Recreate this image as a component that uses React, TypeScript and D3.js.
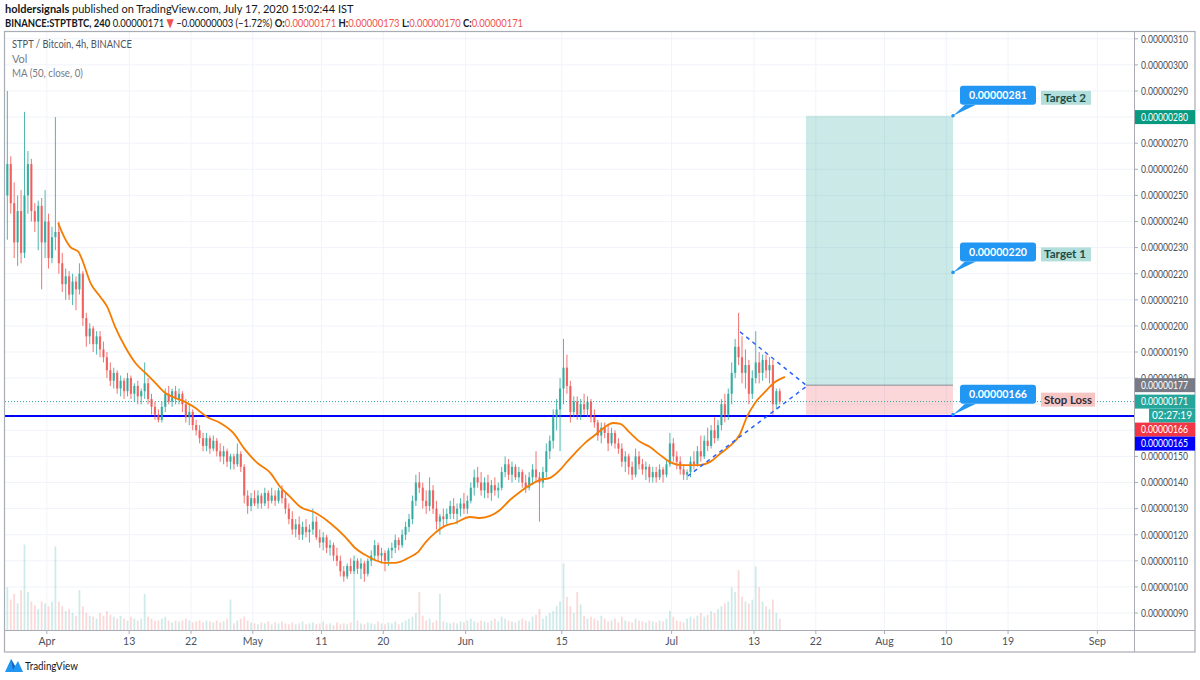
import React, { useLayoutEffect, useRef, useState } from "react";
import * as d3 from "d3";

// ---------- DATA (prices in satoshi = 1e-8 BTC) ----------
// 12h candles [open, high, low, close], first candle centred on 26 Mar 2020 06:00 (day -5.75 from 1 Apr)
const FIRST_DAY = -5.75;
const STEP_DAYS = 0.5;
const candles: number[][] = [
  [250,290,233,262],[262,265,243,247],[247,255,226,232],[232,250,223,244],[244,252,224,228],
  [228,282,226,250],[250,267,243,262],[262,264,240,244],[244,247,236,240],[240,248,229,246],
  [246,249,214,232],[232,252,226,240],[240,243,222,226],[226,238,224,234],[234,280,229,236],
  [236,240,220,224],[224,228,213,216],[216,222,210,219],[219,221,210,212],[212,220,208,217],
  [217,219,206,214],[214,224,212,220],[220,221,200,203],[203,205,192,196],[196,201,193,199],
  [199,200,190,193],[193,198,189,196],[196,198,188,191],[191,194,186,188],[188,190,180,183],
  [183,186,177,179],[179,184,176,182],[182,183,174,176],[176,181,173,179],[179,180,172,175],
  [175,182,173,180],[180,181,172,174],[174,178,171,177],[177,179,170,173],[173,176,170,175],
  [175,186,172,178],[178,180,170,172],[172,174,166,169],[169,171,164,166],[166,168,163,164],
  [164,171,163,169],[169,176,167,174],[174,177,170,171],[171,176,169,175],[175,177,170,172],
  [172,176,170,174],[174,175,167,170],[170,172,163,165],[165,170,162,167],[167,168,160,162],
  [162,164,158,160],[160,162,155,157],[157,159,152,154],[154,159,152,157],[157,158,151,153],
  [153,158,152,156],[156,157,150,152],[152,155,148,150],[150,154,147,152],[152,153,146,148],
  [148,151,145,150],[150,151,145,147],[147,155,146,151],[151,152,144,146],[146,147,132,135],
  [135,137,128,131],[131,136,129,134],[134,137,131,132],[132,137,130,135],[135,136,130,132],
  [132,138,131,136],[136,137,130,133],[133,138,132,135],[135,137,131,133],[133,138,132,137],
  [137,139,132,134],[134,136,128,130],[130,132,124,126],[126,129,120,122],[122,126,119,124],
  [124,127,118,120],[120,125,118,123],[123,126,119,121],[121,124,117,122],[122,130,120,125],
  [125,127,118,119],[119,122,115,117],[117,121,114,119],[119,120,113,115],[115,118,112,116],
  [116,117,110,112],[112,115,108,110],[110,112,104,106],[106,108,102,104],[104,109,103,108],
  [108,111,105,106],[106,112,105,110],[110,111,105,107],[107,111,103,109],[109,110,102,105],
  [105,111,104,110],[110,114,108,112],[112,118,110,116],[116,117,110,112],[112,115,109,113],
  [113,114,106,110],[110,115,108,114],[114,117,111,115],[115,120,113,118],[118,119,114,116],
  [116,122,115,120],[120,125,118,123],[123,128,121,126],[126,135,124,133],[133,143,131,140],
  [140,144,136,138],[138,140,130,133],[133,137,128,131],[131,142,129,137],[137,139,128,130],
  [130,133,122,125],[125,128,120,127],[127,130,123,126],[126,130,124,128],[128,133,126,131],
  [131,134,126,128],[128,132,124,130],[130,134,127,132],[132,136,128,130],[130,135,128,133],
  [133,140,132,138],[138,145,135,142],[142,146,138,140],[140,144,135,137],[137,142,134,140],
  [140,143,134,136],[136,141,133,139],[139,142,135,137],[137,140,134,138],[138,146,137,144],
  [144,150,142,147],[147,149,141,143],[143,148,140,146],[146,147,141,142],[142,146,140,144],
  [144,145,138,140],[140,143,136,138],[138,144,137,142],[142,147,139,145],[145,152,140,142],
  [142,144,125,140],[140,146,138,144],[144,155,142,152],[152,158,149,156],[156,168,153,165],
  [165,172,160,168],[168,180,152,176],[176,195,170,184],[184,189,174,177],[177,179,163,167],
  [167,173,165,171],[171,173,164,166],[166,172,164,170],[170,174,166,168],[168,173,165,171],
  [171,172,163,165],[165,168,161,163],[163,164,156,158],[158,163,155,161],[161,163,157,159],
  [159,162,152,155],[155,161,154,159],[159,160,153,155],[155,157,151,153],[153,155,146,148],
  [148,152,144,150],[150,151,143,146],[146,148,141,143],[143,153,142,150],[150,152,145,147],
  [147,149,143,145],[145,148,141,146],[146,147,140,142],[142,146,140,144],[144,146,140,142],
  [142,147,141,145],[145,146,140,143],[143,149,142,147],[147,159,146,155],[155,157,148,150],
  [150,152,145,148],[148,150,143,145],[145,147,141,143],[143,145,141,144],[144,150,142,148],
  [148,152,145,147],[147,154,146,152],[152,158,148,150],[150,158,149,156],[156,161,152,154],
  [154,162,153,160],[160,165,155,157],[157,164,156,162],[162,172,160,170],[170,174,163,166],
  [166,176,164,174],[174,186,170,182],[182,195,180,192],[192,205,185,188],[188,196,178,182],
  [182,191,176,185],[185,187,170,174],[174,183,172,180],[180,198,178,186],[186,190,178,182],
  [182,189,179,187],[187,189,180,183],[183,188,178,185],[185,187,166,170],[170,176,168,175],
  [175,176,170,171],
];

// relative volume per candle (0-100)
const volumes: number[] = [
  45,32,38,28,42,90,40,30,26,22, 30,28,25,30,88,30,25,20,22,18,
  15,42,25,18,15,14,12,18,15,20, 16,14,12,15,12,10,14,12,10,12,
  38,14,12,10,10,12,14,10,8,10, 9,10,12,10,8,9,10,8,10,9,
  8,10,8,9,12,32,7,10,12,14, 10,8,7,6,8,7,9,6,8,7,
  9,7,6,8,6,7,9,6,7,8, 6,7,9,6,7,5,8,6,7,6,
  8,60,10,7,6,8,7,6,9,7, 6,8,7,9,6,8,10,12,14,18,
  40,15,10,12,8,10,38,9,8,7, 8,7,9,8,10,12,9,8,10,9,
  8,10,12,9,14,12,10,9,8,10, 12,10,9,14,16,22,12,15,18,20,
  25,30,70,35,25,18,40,27,15,12, 14,12,10,15,12,9,10,12,8,14,
  10,9,8,12,10,9,8,10,9,8, 10,9,12,20,14,10,9,8,12,14,
  12,15,18,14,16,20,18,22,25,28, 30,45,40,63,35,30,28,32,67,45,
  30,25,22,32,18,12,
];

// MA(50, close): candle index (fractional) and value
const maIndex: number[] = [14.8,16,18.3,20.7,21.8,24.2,27.1,29.1,31.4,34.3,37.3,40.2,43.1,46,48.9,51.8,54.7,58.2,62,65.8,69.3,72.8,76.6,79.5,82.4,85.3,89.7,94,98.4,101.3,104.2,107.1,110,112.9,114.4,117.3,119.7,121.7,124.6,127.5,130.4,134.8,137.7,140.6,143.5,146.4,149.3,152.3,155.2,158.1,161,163,165.4,168.3,171.2,174.1,176.4,178.5,181.4,184.3,187.2,190.1,193,196,198.8,201.7,204.7,207.6,210.5,213.4,215.4,217.8,220.7,223.6,226.5];
const maValue: number[] = [239.5,235.6,230.3,228.4,225.3,216.5,211.1,207.3,199.6,192,185.8,182,178.2,174.3,172.4,170.9,168.6,165.1,162.8,159,152.5,147.5,143.7,138.3,134.5,130.7,128.4,124.5,119.2,114.9,112.3,110.3,109.2,109.2,109.6,111.5,113.4,116.9,120.7,123.4,124.5,126.8,126.4,127.2,129.5,133.3,136.4,139.1,141,141.8,144.8,147.9,151.3,155.2,158.2,161.3,162.8,162.5,159,155.6,153.6,150.6,147.9,146.7,146.7,146.7,147.9,151,154,158.5,165.1,170.5,174.7,178.5,180.5];

const priceTicks: number[] = [90,100,110,120,130,140,150,160,170,180,190,200,210,220,230,240,250,260,270,280,290,300,310];
const timeTickDays: number[] = [0,12,21,30,40,49,61,75,91,103,112,122,131,140,153];
const timeTickLabels: string[] = ["Apr","13","22","May","11","20","Jun","15","Jul","13","22","Aug","10","19","Sep"];

// drawings
const trianglePoints: number[][] = [[100.96,197.7],[110.72,177.0],[93.38,142.5]];
const positionStartDay = 110.57;
const positionEndDay = 131.98;
const entryPrice = 177.3;
const stopPrice = 166;
const targetPrice = 280.5;
const supportLine = 165.5;
const lastPrice = 171;
const calloutPrices: number[] = [280.5, 220.5, 166];
const calloutTexts: string[] = ["0.00000281", "0.00000220", "0.00000166"];
const calloutTags: string[] = ["Target 2", "Target 1", "Stop Loss"];

const UP = "#26a69a";
const DOWN = "#ef5350";
const FONT = "Lato, 'DejaVu Sans', sans-serif";

const fmt = (p: number) => (p * 1e-8).toFixed(8);

// text horizontally scaled (via transform) to a target width, keeping natural glyph spacing
function FitText(props: { x: number; y: number; width: number; children: React.ReactNode; [k: string]: any }) {
  const { x, y, width, children, ...rest } = props;
  const ref = useRef<SVGTextElement>(null);
  const [s, setS] = useState(1);
  useLayoutEffect(() => {
    if (ref.current) {
      const w = ref.current.getComputedTextLength();
      if (w > 0) setS(width / w);
    }
  }, [width]);
  return (
    <g transform={`translate(${x},${y}) scale(${s},1)`}>
      <text ref={ref} x={0} y={0} {...rest}>
        {children}
      </text>
    </g>
  );
}

export default function App() {
  const L = 5, R = 1134, T = 32, B = 630, AB = 652, FR = 1195;
  const x = d3.scaleLinear().domain([-6.09, 158.34]).range([L, R]);
  const y = d3.scaleLinear().domain([83.5, 312.6]).range([B, T]);
  const v = d3.scaleLinear().domain([0, 100]).range([B, 535]);
  const cx = (i: number) => x(FIRST_DAY + i * STEP_DAYS);
  const bw = 2.2;

  const maLine = d3
    .line<number>()
    .x((_, k) => cx(maIndex[k]))
    .y((d) => y(d))
    .curve(d3.curveMonotoneX)(maValue) || "";

  const triPath = `M${x(trianglePoints[0][0])},${y(trianglePoints[0][1])}L${x(trianglePoints[1][0])},${y(trianglePoints[1][1])}L${x(trianglePoints[2][0])},${y(trianglePoints[2][1])}`;

  const px0 = x(positionStartDay), px1 = x(positionEndDay);

  // right axis labels (stacked like TradingView)
  const axisBoxes = [
    { p: entryPrice, text: fmt(177), bg: "#787b86", fg: "#fff" },
    { p: lastPrice, text: fmt(lastPrice), bg: UP, fg: "#fff", timer: "02:27:19" },
    { p: stopPrice, text: fmt(stopPrice), bg: "#f23645", fg: "#fff" },
    { p: supportLine, text: fmt(165), bg: "#0000ff", fg: "#fff" },
  ];
  let prevBottom = -Infinity;
  const placed: { cy: number; text: string; bg: string; fg: string; left: number }[] = [];
  axisBoxes.forEach((b) => {
    const c = Math.max(y(b.p), prevBottom + 7);
    placed.push({ cy: c, text: b.text, bg: b.bg, fg: b.fg, left: R + 1 });
    prevBottom = c + 7;
    if (b.timer) {
      const tc = prevBottom + 7;
      placed.push({ cy: tc, text: b.timer, bg: b.bg, fg: b.fg, left: 1149 });
      prevBottom = tc + 7;
    }
  });
  const hiddenTicks = [170, 160];

  return (
    <svg
      width={1200}
      height={680}
      style={{ position: "absolute", left: 0, top: 0, display: "block", background: "#fff" }}
      fontFamily={FONT}
    >
      <rect x={0} y={0} width={1200} height={680} fill="#fff" />
      {/* header */}
      <FitText x={5} y={13} width={349} fontSize={12} fill="#131722">
        <tspan fontWeight={700}>holdersignals</tspan>
        <tspan> published on TradingView.com, July 17, 2020 15:02:44 IST</tspan>
      </FitText>
      <FitText x={5} y={27} width={519} fontSize={12} fill="#131722">
        <tspan fontWeight={700}>BINANCE:STPTBTC, 240</tspan>
        <tspan> 0.00000171 </tspan>
        <tspan fill={DOWN}>▼</tspan>
        <tspan> −0.00000003 (−1.72%) </tspan>
        <tspan fontWeight={700}>O:</tspan>
        <tspan fill={DOWN}>0.00000171</tspan>
        <tspan fontWeight={700}> H:</tspan>
        <tspan fill={DOWN}>0.00000173</tspan>
        <tspan fontWeight={700}> L:</tspan>
        <tspan fill={DOWN}>0.00000170</tspan>
        <tspan fontWeight={700}> C:</tspan>
        <tspan fill={DOWN}>0.00000171</tspan>
      </FitText>

      {/* grid */}
      {priceTicks.map((p) => (
        <line key={"g" + p} x1={L} x2={R} y1={y(p)} y2={y(p)} stroke="#f0f3fa" strokeWidth={1} />
      ))}
      {timeTickDays.map((d) => (
        <line key={"v" + d} x1={x(d)} x2={x(d)} y1={T} y2={B} stroke="#f0f3fa" strokeWidth={1} />
      ))}

      {/* volume */}
      {volumes.map((vol, i) => {
        const c = candles[i];
        const up = c[3] >= c[0];
        return (
          <rect key={"vol" + i} x={cx(i) - 0.9} y={v(vol)} width={1.8} height={B - v(vol)} fill={up ? UP : DOWN} opacity={0.22} />
        );
      })}

      {/* position tool */}
      <rect x={px0} y={y(targetPrice)} width={px1 - px0} height={y(entryPrice) - y(targetPrice)} fill="rgba(38,166,154,0.24)" />
      <rect x={px0} y={y(entryPrice)} width={px1 - px0} height={y(stopPrice) - y(entryPrice)} fill="rgba(242,54,69,0.2)" />
      <line x1={px0} x2={px1} y1={y(entryPrice)} y2={y(entryPrice)} stroke="#8a8d96" strokeWidth={1} />

      {/* lines */}
      <line x1={L} x2={R} y1={y(lastPrice)} y2={y(lastPrice)} stroke={UP} strokeWidth={1} strokeDasharray="1 2" />
      <line x1={L} x2={R} y1={y(supportLine)} y2={y(supportLine)} stroke="#0000ff" strokeWidth={2} />

      {/* candles */}
      {candles.map((c, i) => {
        const [o, h, l, cl] = c;
        const up = cl >= o;
        const col = up ? UP : DOWN;
        const top = y(Math.max(o, cl));
        const bot = y(Math.min(o, cl));
        return (
          <g key={"c" + i}>
            <line x1={cx(i)} x2={cx(i)} y1={y(h)} y2={y(l)} stroke={col} strokeWidth={1} opacity={0.8} />
            <rect x={cx(i) - bw / 2} y={top} width={bw} height={Math.max(1, bot - top)} fill={col} opacity={0.8} />
          </g>
        );
      })}

      {/* MA */}
      <path d={maLine} fill="none" stroke="#f57c00" strokeWidth={1.8} />

      {/* triangle */}
      <path d={triPath} fill="none" stroke="#2962ff" strokeWidth={1.5} strokeDasharray="4 4" />

      {/* callouts */}
      {calloutPrices.map((p, k) => {
        const tx = px1, ty = y(p);
        const rx = tx + 7, rb = ty - 11, rw = 76, rh = 19;
        const tagW = k === 2 ? 54 : 50;
        const dy = k === 2 ? 3 : 0;
        return (
          <g key={"co" + k}>
            <path d={`M${tx},${ty}L${rx + 5},${rb}L${rx + 16},${rb}Z`} fill="#2196f3" />
            <rect x={rx} y={rb - rh} width={rw} height={rh} rx={3} fill="#2196f3" />
            <circle cx={tx} cy={ty} r={1.8} fill="#2196f3" />
            <text x={rx + rw / 2} y={rb - 5.5} fontSize={12} fontWeight={700} fill="#fff" textAnchor="middle" textLength={58} lengthAdjust="spacingAndGlyphs">{calloutTexts[k]}</text>
            <rect x={rx + 81} y={rb - 14 + dy} width={tagW} height={14} fill={k === 2 ? "#f8c5c5" : "#b2dfdb"} />
            <text x={rx + 84} y={rb - 3 + dy} fontSize={11.5} fontWeight={700} fill={k === 2 ? "#2a2e39" : "#1d4d47"} textLength={k === 2 ? 48 : 42} lengthAdjust="spacingAndGlyphs">{calloutTags[k]}</text>
          </g>
        );
      })}

      {/* legend */}
      <FitText x={12} y={48} width={120} fontSize={11} fill="#50535e">STPT / Bitcoin, 4h, BINANCE</FitText>
      <text x={12} y={63} fontSize={11} fill="#787b86">Vol</text>
      <FitText x={12} y={77} width={71} fontSize={11} fill="#787b86">MA (50, close, 0)</FitText>

      {/* frame & axes */}
      <rect x={4.5} y={31.5} width={FR - 4.5} height={AB - 31.5} fill="none" stroke="#a9acb5" strokeWidth={1.2} />
      <line x1={R + 0.5} x2={R + 0.5} y1={T} y2={AB} stroke="#a9acb5" strokeWidth={1} />
      <line x1={L} x2={FR} y1={B + 0.5} y2={B + 0.5} stroke="#a9acb5" strokeWidth={1} />

      {/* price axis */}
      {priceTicks.map((p) => (
        <g key={"pt" + p}>
          <line x1={R} x2={R + 4} y1={y(p)} y2={y(p)} stroke="#a9acb5" />
          {hiddenTicks.indexOf(p) < 0 && p !== 280 && (
            <text x={1141} y={y(p) + 3.8} fontSize={10.5} fill="#4c525e" textLength={47} lengthAdjust="spacingAndGlyphs">{fmt(p)}</text>
          )}
        </g>
      ))}
      {/* target axis label */}
      <rect x={R + 1} y={y(280) - 7} width={FR - R - 1} height={14} fill="#089981" />
      <text x={1141} y={y(280) + 3.8} fontSize={10.5} fill="#fff" textLength={47} lengthAdjust="spacingAndGlyphs">{fmt(280)}</text>
      {placed.map((b, k) => (
        <g key={"ab" + k}>
          <rect x={b.left} y={b.cy - 7} width={FR - b.left} height={14} fill={b.bg} />
          <text x={b.left === R + 1 ? 1141 : 1152} y={b.cy + 3.8} fontSize={10.5} fill={b.fg} textLength={b.left === R + 1 ? 47 : 40} lengthAdjust="spacingAndGlyphs">{b.text}</text>
        </g>
      ))}

      {/* time axis */}
      {timeTickDays.map((d, k) => (
        <g key={"tt" + d}>
          <line x1={x(d)} x2={x(d)} y1={B} y2={B + 4} stroke="#a9acb5" />
          <text x={x(d)} y={645} fontSize={10.5} fill="#4c525e" textAnchor="middle">{timeTickLabels[k]}</text>
        </g>
      ))}

      {/* footer logo */}
      <path d="M5,672 L11,659 L15,666 L18,661 L23,672 Z" fill="#2196f3" />
      <path d="M11,659 L15,666 L13,670 Z" fill="#1565c0" />
      <FitText x={25} y={670} width={53} fontSize={11} fill="#131722">TradingView</FitText>
    </svg>
  );
}
